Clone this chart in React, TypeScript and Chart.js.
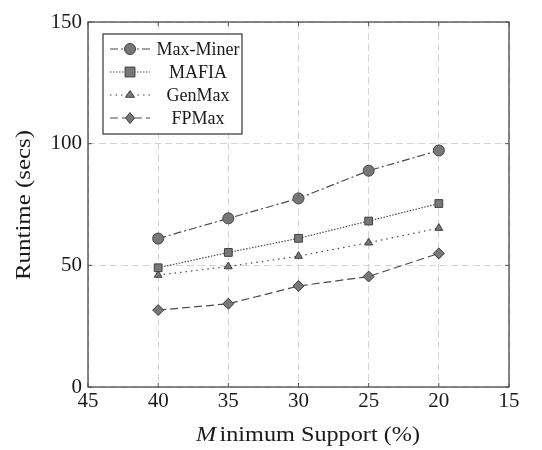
import React, { useEffect, useRef } from "react";
import { Chart, registerables } from "chart.js";

Chart.register(...registerables);

// Minimum support levels (%) and runtimes (secs) for each miner
const supportLevels = [40, 35, 30, 25, 20];
const maxMinerRuntime = [61, 69.3, 77.5, 88.9, 97.2];
const mafiaRuntime = [49, 55.3, 61.1, 68.2, 75.4];
const genMaxRuntime = [46, 49.5, 53.8, 59.3, 65.3];
const fpMaxRuntime = [31.6, 34.2, 41.5, 45.4, 54.9];

const seriesNames = ["Max-Miner", "MAFIA", "GenMax", "FPMax"];
const yTickValues = [0, 50, 100, 150];

const FONT = "'Liberation Serif', 'DejaVu Serif', serif";
const LINE = "#4a4a4a";
const MARK_FILL = "#777777";
const MARK_EDGE = "#404040";

type Style = { dash: number[]; point: string; radius: number };
const styles: Style[] = [
  { dash: [8, 3, 2, 3], point: "circle", radius: 5.5 },
  { dash: [1.5, 1.5], point: "rect", radius: 5.5 },
  { dash: [1.5, 4], point: "triangle", radius: 4.5 },
  { dash: [8, 4], point: "rectRot", radius: 5.5 },
];

function drawMarker(ctx: CanvasRenderingContext2D, kind: string, x: number, y: number, r: number) {
  ctx.save();
  ctx.setLineDash([]);
  ctx.fillStyle = MARK_FILL;
  ctx.strokeStyle = MARK_EDGE;
  ctx.lineWidth = 1;
  ctx.beginPath();
  if (kind === "circle") {
    ctx.arc(x, y, r, 0, Math.PI * 2);
  } else if (kind === "rect") {
    const s = r * 0.9;
    ctx.rect(x - s, y - s, 2 * s, 2 * s);
  } else if (kind === "triangle") {
    const h = r * 1.5;
    ctx.moveTo(x, y - h * 0.66);
    ctx.lineTo(x + r, y + h * 0.34);
    ctx.lineTo(x - r, y + h * 0.34);
    ctx.closePath();
  } else {
    ctx.moveTo(x, y - r);
    ctx.lineTo(x + r * 0.8, y);
    ctx.lineTo(x, y + r);
    ctx.lineTo(x - r * 0.8, y);
    ctx.closePath();
  }
  ctx.fill();
  ctx.stroke();
  ctx.restore();
}

// Draw text runs stretched horizontally to a given width, anchored at their centre
function fillStretched(
  ctx: CanvasRenderingContext2D,
  parts: { text: string; font: string; gap?: number }[],
  cx: number,
  cy: number,
  width: number
) {
  let total = 0;
  const widths = parts.map((p) => {
    ctx.font = p.font;
    const w = ctx.measureText(p.text).width + (p.gap || 0);
    total += w;
    return w;
  });
  const k = width / total;
  ctx.save();
  ctx.translate(cx, cy);
  ctx.scale(k, 1);
  ctx.textAlign = "left";
  ctx.textBaseline = "middle";
  let x = -total / 2;
  parts.forEach((p, i) => {
    ctx.font = p.font;
    ctx.fillText(p.text, x, 0);
    x += widths[i];
  });
  ctx.restore();
}

// Frame, inner ticks, legend box and axis titles
const framePlugin = {
  id: "frame",
  afterDraw(chart: any) {
    const { ctx, chartArea: a, scales } = chart;
    ctx.save();
    // box
    ctx.strokeStyle = "#3a3a3a";
    ctx.lineWidth = 1.2;
    ctx.setLineDash([]);
    ctx.strokeRect(a.left, a.top, a.right - a.left, a.bottom - a.top);
    // inner tick marks
    ctx.lineWidth = 1;
    ctx.strokeStyle = "#555";
    for (const v of yTickValues) {
      const y = scales.y.getPixelForValue(v);
      ctx.beginPath();
      ctx.moveTo(a.left, y);
      ctx.lineTo(a.left + 4, y);
      ctx.moveTo(a.right, y);
      ctx.lineTo(a.right - 4, y);
      ctx.stroke();
    }
    for (let v = 15; v <= 45; v += 5) {
      const x = scales.x.getPixelForValue(v);
      ctx.beginPath();
      ctx.moveTo(x, a.bottom);
      ctx.lineTo(x, a.bottom - 4);
      ctx.moveTo(x, a.top);
      ctx.lineTo(x, a.top + 4);
      ctx.stroke();
    }

    // legend
    const bx = a.left + 15, by = a.top + 12, bw = 139, bh = 100;
    ctx.fillStyle = "#ffffff";
    ctx.fillRect(bx, by, bw, bh);
    ctx.strokeStyle = "#333";
    ctx.lineWidth = 1.2;
    ctx.strokeRect(bx, by, bw, bh);
    const rows = [15, 38, 61, 84];
    seriesNames.forEach((name, i) => {
      const y = by + rows[i];
      const st = styles[i];
      ctx.strokeStyle = LINE;
      ctx.lineWidth = 1.2;
      ctx.setLineDash(st.dash);
      ctx.beginPath();
      ctx.moveTo(bx + 7, y);
      ctx.lineTo(bx + 47, y);
      ctx.stroke();
      drawMarker(ctx, st.point, bx + 27, y, st.radius);
      ctx.fillStyle = "#1a1a1a";
      ctx.font = `18px ${FONT}`;
      ctx.textAlign = "center";
      ctx.textBaseline = "middle";
      ctx.fillText(name, bx + 95, y + 1);
    });

    // axis titles
    ctx.fillStyle = "#1a1a1a";
    fillStretched(
      ctx,
      [
        { text: "M", font: `italic 22px ${FONT}`, gap: 3 },
        { text: "inimum Support (%)", font: `22px ${FONT}` },
      ],
      308,
      435,
      224
    );

    ctx.save();
    ctx.translate(24, 205);
    ctx.rotate(-Math.PI / 2);
    fillStretched(ctx, [{ text: "Runtime (secs)", font: `22px ${FONT}` }], 0, 0, 150);
    ctx.restore();

    ctx.restore();
  },
};

export default function App() {
  const ref = useRef<HTMLCanvasElement>(null);

  useEffect(() => {
    document.body.style.margin = "0";
    const series = [maxMinerRuntime, mafiaRuntime, genMaxRuntime, fpMaxRuntime];
    const chart = new Chart(ref.current!, {
      type: "line",
      data: {
        datasets: series.map((vals, i) => ({
          label: seriesNames[i],
          data: supportLevels.map((x, j) => ({ x, y: vals[j] })),
          borderColor: LINE,
          borderWidth: 1.2,
          borderDash: styles[i].dash,
          pointStyle: styles[i].point as any,
          pointRadius: styles[i].radius,
          pointBackgroundColor: MARK_FILL,
          pointBorderColor: MARK_EDGE,
          pointBorderWidth: 1,
          fill: false,
          tension: 0,
        })),
      },
      options: {
        animation: false,
        responsive: false,
        layout: { padding: { top: 22, right: 33, left: 0, bottom: 0 } },
        plugins: { legend: { display: false }, tooltip: { enabled: false } },
        scales: {
          x: {
            type: "linear",
            min: 15,
            max: 45,
            reverse: true,
            ticks: {
              stepSize: 5,
              color: "#1a1a1a",
              font: { family: FONT, size: 21 },
              padding: 2,
              maxRotation: 0,
            },
            grid: { color: "#d4d4d4", lineWidth: 1, drawTicks: false },
            border: { display: false, dash: [7, 4] },
            afterFit(scale: any) {
              scale.height = 63;
            },
          },
          y: {
            min: 0,
            max: 150,
            ticks: {
              stepSize: 50,
              color: "#1a1a1a",
              font: { family: FONT, size: 21 },
              padding: 6,
            },
            grid: { color: "#d4d4d4", lineWidth: 1, drawTicks: false },
            border: { display: false, dash: [7, 4] },
            afterFit(scale: any) {
              scale.width = 88;
            },
          },
        },
      },
      plugins: [framePlugin],
    });
    return () => chart.destroy();
  }, []);

  return (
    <div style={{ width: 542, height: 450, background: "#fff" }}>
      <canvas ref={ref} width={542} height={450} />
    </div>
  );
}
